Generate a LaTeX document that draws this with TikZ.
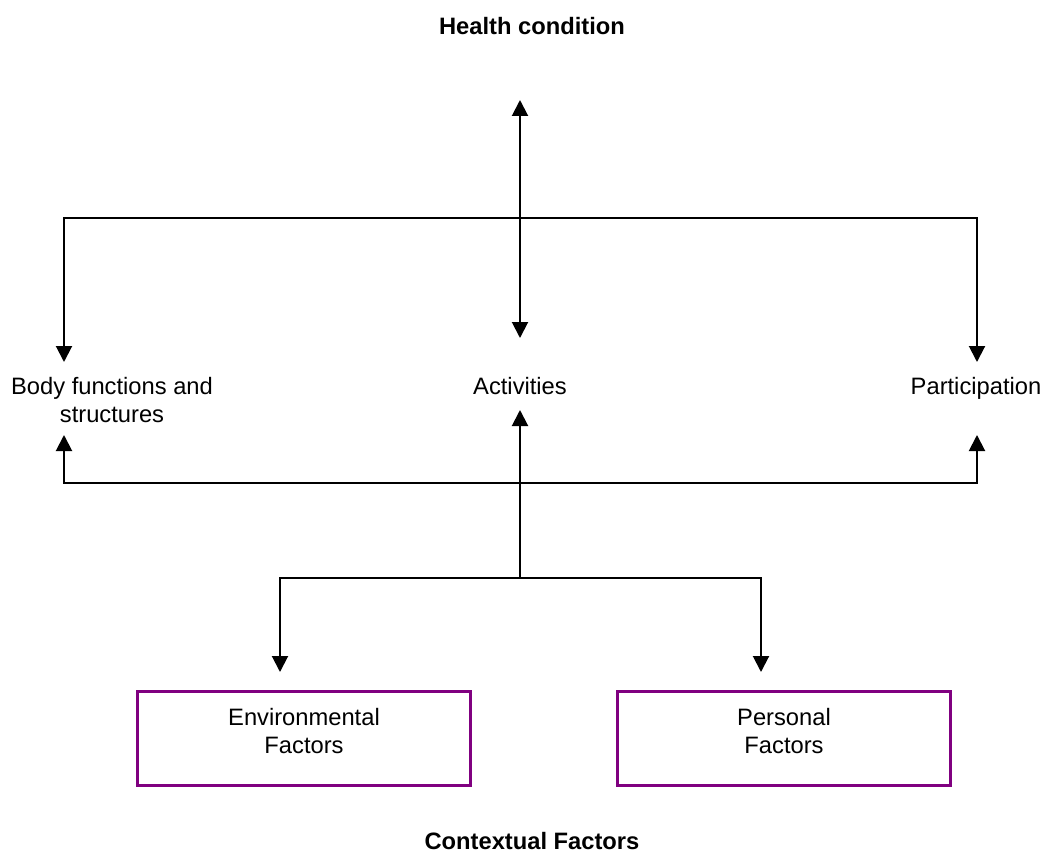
\documentclass[tikz,border=0pt]{standalone}
\usepackage{fontspec}
\setmainfont{Liberation Sans}
\usepackage{tikz}
\usepackage{xcolor}
\usetikzlibrary{arrows.meta}
\definecolor{boxpurple}{RGB}{128,0,128}

\begin{document}
\begin{tikzpicture}[x=0.02cm, y=-0.02cm,
                    every node/.style={font=\fontsize{13.5pt}{15.4pt}\selectfont, align=center, inner sep=0pt},
                    title/.style={font=\fontsize{13.5pt}{15.4pt}\selectfont\bfseries},
                    factorbox/.style={draw=boxpurple, line width=0.065cm, minimum width=6.66cm, minimum height=1.88cm},
                    link/.style={line width=0.04cm, line join=miter},
                    tip/.tip={Triangle[length=0.32cm, width=0.32cm]}]
                    \useasboundingbox (0,0) rectangle (1045,852);

                    \node[title] (health) at (532,26) {Health condition};
                    \node (body) at (112,400) {Body functions and\\structures};
                    \node (act) at (520,386) {Activities};
                    \node (part) at (976,388) {Participation};
                    \node[factorbox] (env) at (304,738.5) {};
                    \node (envtext) at (304,731) {Environmental\\Factors};
                    \node[factorbox] (pers) at (784,738.5) {};
                    \node (perstext) at (784,731) {Personal\\Factors};
                    \node[title] (context) at (532,841) {Contextual Factors};

                    \coordinate (hcin) at (520,100);
                    \coordinate (actin) at (520,338);
                    \coordinate (actout) at (520,410);
                    \coordinate (bodyin) at (64,362);
                    \coordinate (bodyout) at (64,435);
                    \coordinate (partin) at (977,362);
                    \coordinate (partout) at (977,435);
                    \coordinate (topL) at (64,218);
                    \coordinate (topR) at (977,218);
                    \coordinate (botL) at (64,483);
                    \coordinate (botR) at (977,483);
                    \coordinate (ctxjoin) at (520,578);
                    \coordinate (envin) at (280,672);
                    \coordinate (persin) at (761,672);

                    \draw[link, tip-tip] (hcin) -- (actin);
                    \draw[link, tip-tip] (bodyin) -- (topL) -- (topR) -- (partin);
                    \draw[link, tip-tip] (bodyout) -- (botL) -- (botR) -- (partout);
                    \draw[link, -tip] (ctxjoin) -- (actout);
                    \draw[link, tip-tip] (envin) |- (ctxjoin) -| (persin);
                \end{tikzpicture}
\end{document}
